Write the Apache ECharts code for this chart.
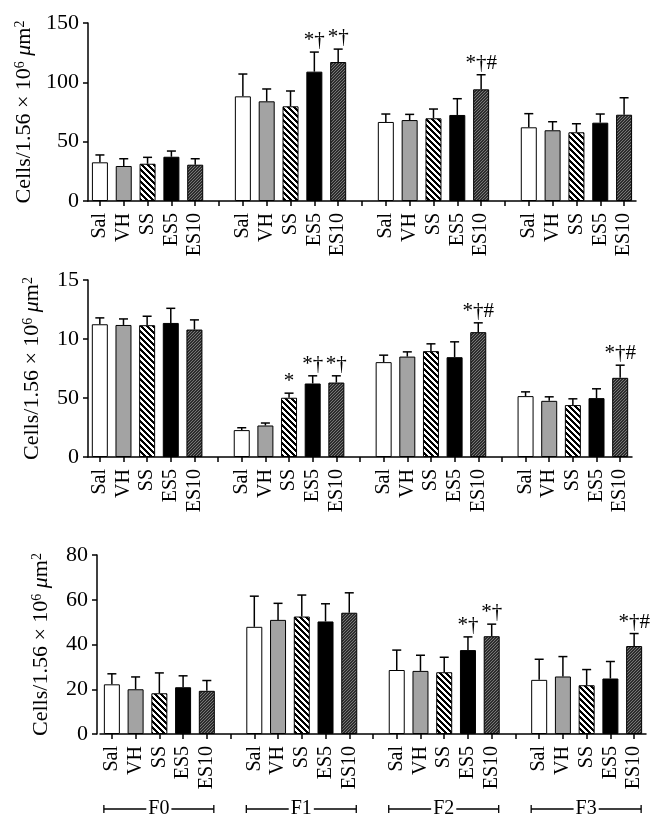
<!DOCTYPE html>
<html>
<head>
<meta charset="utf-8">
<script src="https://cdn.jsdelivr.net/npm/echarts@6/dist/echarts.min.js"></script>
<style>html,body{margin:0;padding:0;background:#fff;}#c{width:668px;height:827px;}</style>
</head>
<body>
<div id="c"></div>
<script>
// ---------- data ----------
const treatments = ['Sal', 'VH', 'SS', 'ES5', 'ES10'];
const groups = ['F0', 'F1', 'F2', 'F3'];

// panel 1 (0-150)
const topMean = [[32.6, 29.5, 31.4, 37.3, 30.6], [88.2, 84.0, 79.8, 109.0, 117.1], [66.6, 68.2, 69.7, 72.5, 94.1], [62.1, 59.6, 57.9, 66.0, 72.7]];
const topErr = [[6.2, 6.1, 5.4, 4.8, 5.0], [18.8, 10.4, 12.9, 16.5, 10.9], [6.7, 4.8, 7.8, 13.7, 12.3], [11.5, 7.2, 7.2, 7.3, 14.3]];
const topMarks = [['', '', '', '', ''], ['', '', '', '*†', '*†'], ['', '', '', '', '*†#'], ['', '', '', '', '']];
const topTicks = ['0', '50', '100', '150'];

// panel 2 (0-150, labels as printed)
const midMean = [[112.5, 111.9, 111.7, 113.6, 108.0], [22.8, 26.7, 50.2, 62.3, 63.1], [80.4, 85.1, 89.7, 84.6, 105.8], [51.6, 47.6, 44.0, 49.9, 67.1]];
const midErr = [[5.4, 5.1, 7.6, 12.4, 8.2], [2.0, 2.1, 3.9, 6.5, 5.7], [5.9, 4.0, 6.2, 13.0, 7.9], [3.6, 3.4, 5.3, 7.9, 10.7]];
const midMarks = [['', '', '', '', ''], ['', '', '*', '*†', '*†'], ['', '', '', '', '*†#'], ['', '', '', '', '*†#']];
const midTicks = ['0', '50', '10', '15'];

// panel 3 (0-80)
const botMean = [[22.2, 20.0, 18.2, 20.9, 19.3], [47.9, 51.0, 52.5, 50.3, 54.2], [28.6, 28.2, 27.6, 37.5, 43.7], [24.2, 25.7, 21.8, 24.8, 39.3]];
const botErr = [[4.7, 5.5, 9.1, 5.1, 4.6], [13.7, 7.4, 9.6, 7.9, 8.9], [8.9, 7.0, 6.7, 5.9, 5.4], [9.2, 8.9, 7.0, 7.6, 5.6]];
const botMarks = [['', '', '', '', ''], ['', '', '', '', ''], ['', '', '', '*†', '*†'], ['', '', '', '', '*†#']];
const botTicks = ['0', '20', '40', '60', '80'];

// ---------- styles ----------
const FONT = '"Liberation Serif", "Times New Roman", serif';
function makePattern(size, fn) {
  const c = document.createElement('canvas');
  c.width = size; c.height = size;
  const ctx = c.getContext('2d');
  const img = ctx.createImageData(size, size);
  for (let y = 0; y < size; y++) for (let x = 0; x < size; x++) {
    const v = fn(x, y); const i = (y * size + x) * 4;
    img.data[i] = v; img.data[i + 1] = v; img.data[i + 2] = v; img.data[i + 3] = 255;
  }
  ctx.putImageData(img, 0, 0);
  return { image: c, repeat: 'repeat' };
}
const ssPattern = makePattern(6, (x, y) => ((((x - y) % 6) + 6) % 6 < 3 ? 0 : 255));
const es10Pattern = makePattern(3, (x, y) => ((x + y) % 3 === 0 ? 120 : 45));
const fills = ['#ffffff', '#a3a3a3', ssPattern, '#000000', es10Pattern];

// categories: 5 bars + 1 gap per group (last group without gap)
const categories = [];
groups.forEach((g, gi) => {
  treatments.forEach(t => categories.push(t));
  if (gi < groups.length - 1) categories.push('');
});
function idxOf(gi, ti) { return gi * 6 + ti; }

function barData(mean) {
  const arr = categories.map(() => '-');
  mean.forEach((row, gi) => row.forEach((v, ti) => {
    arr[idxOf(gi, ti)] = { value: v, itemStyle: { color: fills[ti] } };
  }));
  return arr;
}
function errData(mean, err, marks) {
  const arr = [];
  mean.forEach((row, gi) => row.forEach((v, ti) => {
    arr.push({ value: [idxOf(gi, ti), v, err[gi][ti]], mark: marks[gi][ti] });
  }));
  return arr;
}

const panels = [
  { mean: topMean, err: topErr, marks: topMarks, ticks: topTicks, max: 150, interval: 50,
    grid: { left: 88, right: 32, top: 23, height: 178 }, offset: 0 },
  { mean: midMean, err: midErr, marks: midMarks, ticks: midTicks, max: 150, interval: 50,
    grid: { left: 88, right: 36, top: 280, height: 177 }, offset: 0 },
  { mean: botMean, err: botErr, marks: botMarks, ticks: botTicks, max: 80, interval: 20,
    grid: { left: 100, right: 22, top: 555, height: 179 }, offset: 3 }
];

const axisLine = { lineStyle: { color: '#000', width: 1.5 } };
const yName = '{a|Cells/1.56 × 10}{s|6}{a| }{i|μ}{a|m}{s|2}';

const option = {
  animation: false,
  backgroundColor: '#fff',
  grid: panels.map(p => p.grid),
  xAxis: panels.map((p, i) => ({
    type: 'category', gridIndex: i, data: categories,
    axisLine: axisLine,
    axisTick: { show: true, alignWithLabel: true, interval: 0, length: 5, lineStyle: { color: '#000', width: 1.5 } },
    axisLabel: { interval: 0, rotate: 90, margin: 12, color: '#000', fontFamily: FONT, fontSize: 20 },
    splitLine: { show: false }
  })),
  yAxis: panels.map((p, i) => ({
    type: 'value', gridIndex: i, min: 0, max: p.max, interval: p.interval, offset: p.offset,
    axisLine: { show: true, lineStyle: { color: '#000', width: 1.5 } },
    axisTick: { show: true, length: 5, lineStyle: { color: '#000', width: 1.5 } },
    axisLabel: { margin: 9, color: '#000', fontFamily: FONT, fontSize: 22,
      formatter: v => p.ticks[Math.round(v / p.interval)] },
    splitLine: { show: false },
    name: yName, nameLocation: 'middle', nameRotate: 90, nameGap: 45,
    nameTextStyle: {
      color: '#000', fontFamily: FONT, fontSize: 22,
      rich: {
        a: { fontFamily: FONT, fontSize: 22, color: '#000' },
        i: { fontFamily: FONT, fontSize: 22, fontStyle: 'italic', color: '#000' },
        s: { fontFamily: FONT, fontSize: 14, color: '#000', verticalAlign: 'top' }
      }
    }
  })),
  series: []
};

panels.forEach((p, i) => {
  option.series.push({
    type: 'bar', xAxisIndex: i, yAxisIndex: i, barWidth: 16,
    data: barData(p.mean),
    itemStyle: { borderColor: '#000', borderWidth: 1 }
  });
  const ed = errData(p.mean, p.err, p.marks);
  option.series.push({
    type: 'custom', xAxisIndex: i, yAxisIndex: i, clip: false, z: 5,
    data: ed,
    encode: { x: 0, y: 1 },
    renderItem: function (params, api) {
      const x = api.value(0), m = api.value(1), e = api.value(2);
      const p0 = api.coord([x, m]);
      const p1 = api.coord([x, m + e]);
      const ls = { stroke: '#000', lineWidth: 1.5 };
      const children = [
        { type: 'line', shape: { x1: p0[0], y1: p0[1], x2: p1[0], y2: p1[1] }, style: ls },
        { type: 'line', shape: { x1: p1[0] - 4.5, y1: p1[1], x2: p1[0] + 4.5, y2: p1[1] }, style: ls }
      ];
      const mark = ed[params.dataIndex].mark;
      if (mark) {
        children.push({ type: 'text', style: {
          text: mark, x: p1[0], y: p1[1] - 1, align: 'center', verticalAlign: 'bottom',
          fontFamily: FONT, fontSize: 21, fill: '#000' } });
      }
      return { type: 'group', children: children };
    }
  });
});

// group brackets under the bottom panel
const bracketData = groups.map((g, gi) => [idxOf(gi, 0), idxOf(gi, 4), 0]);
option.series.push({
  type: 'custom', xAxisIndex: 2, yAxisIndex: 2, clip: false, z: 5,
  data: bracketData,
  encode: { x: [0, 1], y: 2 },
  renderItem: function (params, api) {
    const a = api.coord([api.value(0), 0]);
    const b = api.coord([api.value(1), 0]);
    const y = a[1] + 75;
    const x1 = a[0] - 8, x2 = b[0] + 7;
    const ls = { stroke: '#000', lineWidth: 1.3 };
    return { type: 'group', children: [
      { type: 'line', shape: { x1: x1, y1: y, x2: x2, y2: y }, style: ls },
      { type: 'line', shape: { x1: x1, y1: y - 4, x2: x1, y2: y + 4 }, style: ls },
      { type: 'line', shape: { x1: x2, y1: y - 4, x2: x2, y2: y + 4 }, style: ls },
      { type: 'text', z2: 10, style: { text: groups[params.dataIndex], x: (x1 + x2) / 2, y: y,
        align: 'center', verticalAlign: 'middle', fontFamily: FONT, fontSize: 20, fill: '#000',
        backgroundColor: '#fff', padding: [0, 2] } }
    ] };
  }
});

const chart = echarts.init(document.getElementById('c'), null, { renderer: 'canvas' });
chart.setOption(option);
</script>
</body>
</html>
